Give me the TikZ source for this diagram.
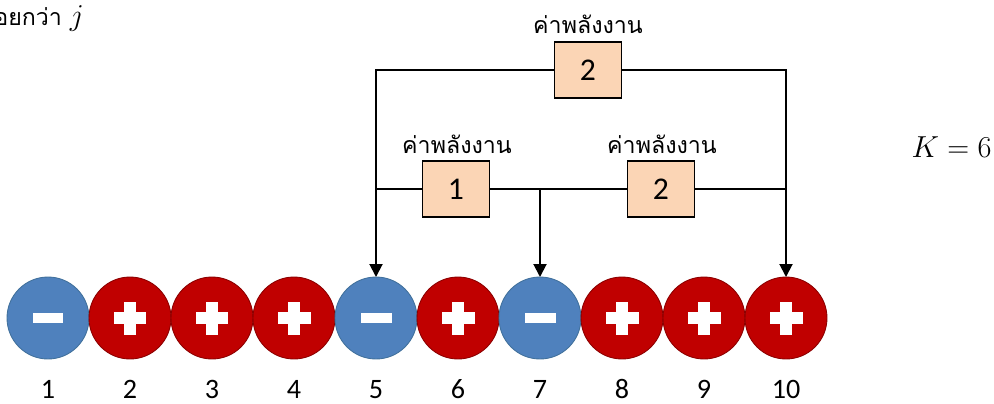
\documentclass[tikz,border=0pt]{standalone}
\usepackage{fontspec}
\setmainfont{Carlito}
\newfontfamily\thaifont[Script=Thai]{Loma}
\usetikzlibrary{arrows.meta}

\definecolor{negblue}{HTML}{4F81BD}
\definecolor{negline}{HTML}{41719C}
\definecolor{posred}{HTML}{C00000}
\definecolor{posline}{HTML}{8C0000}
\definecolor{boxfill}{HTML}{FBD5B5}

\begin{document}
\begin{tikzpicture}[x=0.02cm, y=-0.02cm,
    negball/.style={circle, minimum size=1.64cm, inner sep=0pt, outer sep=0pt,
      fill=negblue, draw=negline, line width=0.5pt,
      path picture={\fill[white] ([xshift=-0.31cm,yshift=-0.1cm]path picture bounding box.center) rectangle ++(0.62cm,0.2cm);}},
    posball/.style={circle, minimum size=1.64cm, inner sep=0pt, outer sep=0pt,
      fill=posred, draw=posline, line width=0.5pt,
      path picture={\fill[white] ([xshift=-0.33cm,yshift=-0.115cm]path picture bounding box.center) rectangle ++(0.66cm,0.23cm);
                    \fill[white] ([xshift=-0.115cm,yshift=-0.33cm]path picture bounding box.center) rectangle ++(0.23cm,0.66cm);}},
    ebox/.style={draw, line width=1.1pt, fill=boxfill, minimum width=1.34cm, minimum height=1.12cm, inner sep=0pt, font=\fontsize{18}{20}\selectfont},
    elabel/.style={anchor=base, inner sep=0pt, font=\thaifont\fontsize{13.2}{16}\selectfont},
    num/.style={anchor=base, inner sep=0pt, font=\fontsize{16}{18}\selectfont},
    wire/.style={line width=1.1pt},
    arr/.style={wire, -{Triangle[length=0.26cm, width=0.26cm]}}]
    \useasboundingbox (0,0) rectangle (994,403);

    % text cut at the top left
    \node[anchor=base west, inner sep=0pt, font=\thaifont\fontsize{13.2}{16}\selectfont] (note) at (-6,25) {อยกว่า {\fontsize{17.28}{20}\selectfont$j$}};
    \node[anchor=base east, inner sep=0pt, font=\fontsize{17.28}{20}\selectfont] (kval) at (992,157) {$K = 6$};

    % the chain
    \node[negball] (c1) at (48,318) {};
    \node[posball] (c2) at (130,318) {};
    \node[posball] (c3) at (212,318) {};
    \node[posball] (c4) at (294,318) {};
    \node[negball] (c5) at (376,318) {};
    \node[posball] (c6) at (458,318) {};
    \node[negball] (c7) at (540,318) {};
    \node[posball] (c8) at (622,318) {};
    \node[posball] (c9) at (704,318) {};
    \node[posball] (c10) at (786,318) {};

    \node[num] (n1) at (48,398) {1};
    \node[num] (n2) at (130,398) {2};
    \node[num] (n3) at (212,398) {3};
    \node[num] (n4) at (294,398) {4};
    \node[num] (n5) at (376,398) {5};
    \node[num] (n6) at (458,398) {6};
    \node[num] (n7) at (540,398) {7};
    \node[num] (n8) at (622,398) {8};
    \node[num] (n9) at (704,398) {9};
    \node[num] (n10) at (786,398) {10};

    % energy boxes
    \node[ebox] (top) at (588,70) {2};
    \node[ebox] (left) at (456,189) {1};
    \node[ebox] (right) at (661,189) {2};
    \node[elabel] (ltop) at (588,33) {ค่าพลังงาน};
    \node[elabel] (lleft) at (457,153) {ค่าพลังงาน};
    \node[elabel] (lright) at (662,153) {ค่าพลังงาน};

    % wires
    \draw[arr] (top.west) -| (c5.north);
    \draw[arr] (top.east) -| (c10.north);
    \draw[wire] (left.west) -- (left.west -| c5.north);
    \draw[wire] (left.east) -- (right.west);
    \draw[wire] (right.east) -- (right.east -| c10.north);
    \coordinate (split) at (left.east -| c7.north);
    \draw[arr] (split) -- (c7.north);
\end{tikzpicture}
\end{document}
